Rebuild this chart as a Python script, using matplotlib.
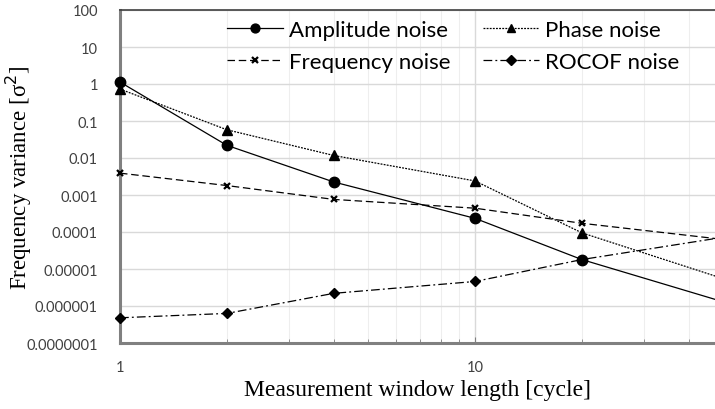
import matplotlib
matplotlib.use('Agg')
import matplotlib.pyplot as plt
from matplotlib.ticker import FixedLocator, FixedFormatter, NullFormatter, LogLocator

# window length in cycles
window = [1, 2, 4, 10, 20, 50]

amplitude_noise = [1.13, 0.022, 0.00225, 0.000234, 1.8e-5, 1.3e-6]
phase_noise = [0.73, 0.058, 0.0117, 0.0024, 9.5e-5, 5.5e-6]
frequency_noise = [0.0039, 0.0018, 0.00076, 0.00044, 0.000172, 6.3e-5]
rocof_noise = [4.8e-7, 6.3e-7, 2.2e-6, 4.6e-6, 1.8e-5, 7.2e-5]

y_ticks = [100, 10, 1, 0.1, 0.01, 0.001, 0.0001, 0.00001, 0.000001, 0.0000001]
y_tick_labels = ['100', '10', '1', '0.1', '0.01', '0.001', '0.0001', '0.00001',
                 '0.000001', '0.0000001']
x_ticks = [1, 10]
x_tick_labels = ['1', '10']

W, H = 715, 410
fig = plt.figure(figsize=(W / 100, H / 100), dpi=100)
ax = fig.add_axes([120 / W, 1 - 344 / H, 595 / W, (344 - 11) / H])

ax.set_xscale('log')
ax.set_yscale('log')
ax.set_xlim(1, 10 ** (595 / 355))
ax.set_ylim(1e-7, 100)

# gridlines
ax.xaxis.set_minor_locator(LogLocator(base=10, subs=range(2, 10)))
ax.grid(True, which='major', axis='both', color='#d9d9d9', linewidth=1.0)
ax.grid(True, which='minor', axis='x', color='#eeeeee', linewidth=0.8)
ax.set_axisbelow(True)

line_kw = dict(color='black', clip_on=False, zorder=3)
l_amp, = ax.plot(window, amplitude_noise, linestyle='-', linewidth=0.9, marker='o',
                 markersize=7.5, label='Amplitude noise', **line_kw)
l_pha, = ax.plot(window, phase_noise, linestyle=(0, (1.5, 1)), linewidth=0.9, marker='^',
                 markersize=7, label='Phase noise', **line_kw)
l_fre, = ax.plot(window, frequency_noise, linestyle=(0, (6, 3)), linewidth=0.9, marker='x',
                 markersize=5, markeredgewidth=1.6, label='Frequency noise', **line_kw)
l_roc, = ax.plot(window, rocof_noise, linestyle=(0, (7, 2.5, 1.5, 2.5)), linewidth=0.9,
                 marker='D', markersize=5.5, label='ROCOF noise', **line_kw)

ax.yaxis.set_major_locator(FixedLocator(y_ticks))
ax.yaxis.set_major_formatter(FixedFormatter(y_tick_labels))
ax.yaxis.set_minor_locator(FixedLocator([]))
ax.xaxis.set_major_locator(FixedLocator(x_ticks))
ax.xaxis.set_major_formatter(FixedFormatter(x_tick_labels))
ax.xaxis.set_minor_formatter(NullFormatter())

ax.tick_params(axis='both', which='both', direction='in', colors='#7f7f7f',
               labelcolor='#404040', labelsize=10.5, labelfontfamily='Lato')
ax.tick_params(axis='x', which='major', length=4, pad=12)
ax.tick_params(axis='x', which='minor', length=3)
ax.tick_params(axis='y', which='major', length=0, pad=16)

for s in ['left', 'bottom']:
    ax.spines[s].set_color('#808080')
    ax.spines[s].set_linewidth(2.2)
ax.spines['top'].set_color('#404040')
ax.spines['top'].set_linewidth(1.2)
ax.spines['right'].set_visible(False)

ax.set_xlabel('Measurement window length [cycle]', family='Liberation Serif',
              fontsize=17, labelpad=4)
ax.set_ylabel('Frequency variance [σ$^2$]', family='Liberation Serif', fontsize=16.5)
ax.yaxis.set_label_coords((34 - 120) / 595, 0.5)

# legend: row 1 Amplitude / Phase, row 2 Frequency / ROCOF
fig.legend([l_amp, l_fre, l_pha, l_roc],
           ['Amplitude noise', 'Frequency noise', 'Phase noise', 'ROCOF noise'],
           loc='upper left', bbox_to_anchor=(227 / W, 1 - 21 / H), ncol=2,
           frameon=False, prop={'family': 'Lato', 'size': 16}, markerscale=0.85,
           handlelength=2.5, handletextpad=0.3, columnspacing=1.45,
           labelspacing=0.55, borderpad=0, borderaxespad=0)

fig.savefig('out.png', dpi=100)
